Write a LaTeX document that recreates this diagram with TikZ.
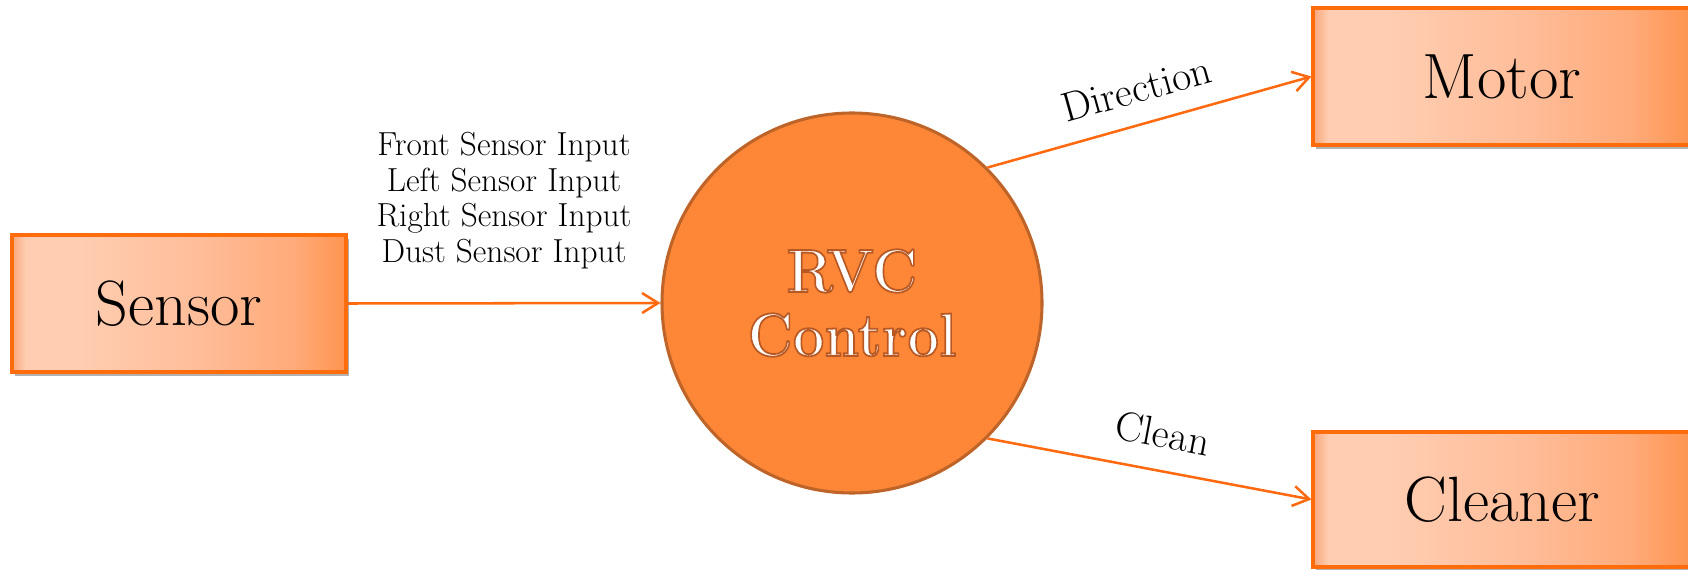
\documentclass[tikz,border=0pt]{standalone}
\usetikzlibrary{arrows.meta,shadows}

\definecolor{boxedge}{HTML}{FF6C0C}
\definecolor{flow}{HTML}{FF6A10}
\definecolor{hubfill}{HTML}{FD8737}
\definecolor{hubedge}{HTML}{BE6428}
\definecolor{peachA}{HTML}{F9A67A}
\definecolor{peachB}{HTML}{FFCDB1}
\definecolor{peachM}{HTML}{FFBE9B}
\definecolor{peachC}{HTML}{FFAB7A}
\definecolor{peachD}{HTML}{FE9450}

% light peach on the left fading to orange on the right, with a thin darker left rim
\pgfdeclarehorizontalshading{peachfade}{100bp}{%
  color(0bp)=(peachA); color(25bp)=(peachA); color(27bp)=(peachB);
  color(35bp)=(peachB); color(52bp)=(peachM); color(67bp)=(peachC);
  color(75bp)=(peachD); color(100bp)=(peachD)}

% white lettering stroked with a brown outline (text render mode 2)
\newcommand\outlinedword[1]{%
  \scalebox{1.02}[1.12]{\special{pdf:code 2 Tr 1.2 w 0.72 0.35 0.14 RG}#1\special{pdf:code 0 Tr}}}

\tikzset{
  entity/.style={rectangle, draw=boxedge, line width=2.3pt, shading=peachfade,
    inner sep=0pt, font=\fontsize{48}{54}\selectfont,
    drop shadow={shadow xshift=2pt, shadow yshift=-3pt, opacity=0.3, fill=black}},
  hub/.style={circle, fill=hubfill, draw=hubedge, line width=2.3pt, inner sep=0pt,
    minimum size=285pt},
  hubword/.style={align=center, inner sep=0pt, text=white,
    font=\fontsize{41}{48}\selectfont\bfseries},
  flowline/.style={draw=flow, line width=1.9pt,
    -{Straight Barb[length=12pt, width=15pt]}},
  flowtext/.style={inner sep=0pt, text=black},
}

\begin{document}
\begin{tikzpicture}[x=0.75pt, y=-0.75pt]
  \useasboundingbox (0,0) rectangle (1688,570);
  \clip (0,0) rectangle (1688,570);

  % external entities
  \node[entity, minimum width=250.5pt, minimum height=102.75pt] (sensor) at (179,303.5) {Sensor};
  \node[entity, minimum width=283.5pt, minimum height=102.75pt] (motor) at (1502,76.5) {Motor};
  \node[entity, minimum width=283.5pt, minimum height=101.25pt] (cleaner) at (1502,499.5) {Cleaner};

  % central process
  \node[hub] (rvc) at (852,303) {};
  \node[hubword] (rvctext) at (rvc) {\outlinedword{RVC}\\\outlinedword{Control}};

  % data flows
  \draw[flowline] (sensor.east) -- node[flowtext, above=25pt, align=center,
      font=\fontsize{25}{26.6}\selectfont]
    {Front Sensor Input\\Left Sensor Input\\Right Sensor Input\\Dust Sensor Input} (rvc.west);
  \draw[flowline] (rvc.45) -- node[flowtext, pos=0.49, sloped, above=15pt,
      font=\fontsize{31}{34}\selectfont] {Direction} (motor.west);
  \draw[flowline] (rvc.-45) -- node[flowtext, pos=0.52, sloped, above=16pt,
      font=\fontsize{31}{34}\selectfont] {Clean} (cleaner.west);
\end{tikzpicture}
\end{document}
